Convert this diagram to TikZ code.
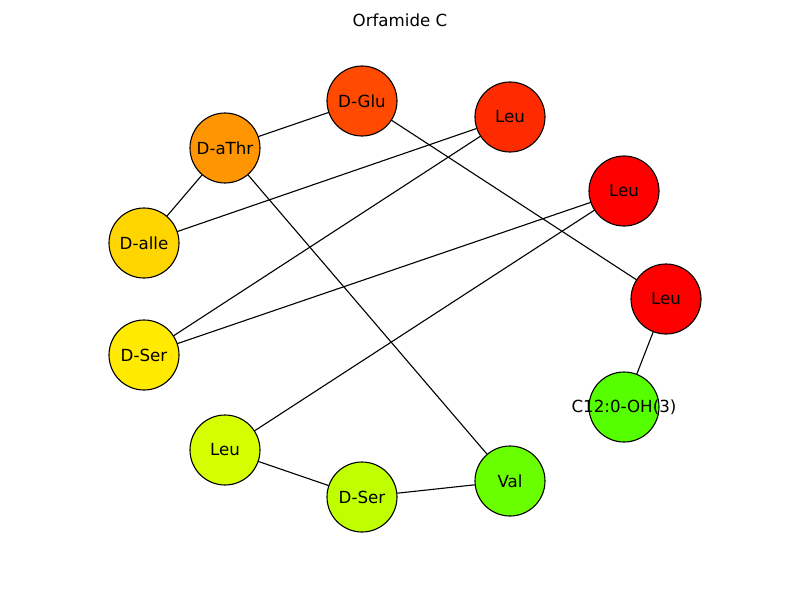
\documentclass[tikz,border=0pt]{standalone}
\usepackage{fontspec}
\setmainfont{DejaVu Sans}
\usepackage{color}
\definecolor{cGlu}{HTML}{FF4A00}
\definecolor{cLeuA}{HTML}{FF2B00}
\definecolor{cLeuB}{HTML}{FF0000}
\definecolor{cFat}{HTML}{55FF00}
\definecolor{cVal}{HTML}{6AFF00}
\definecolor{cSerB}{HTML}{BFFF00}
\definecolor{cLeuC}{HTML}{D5FF00}
\definecolor{cSerA}{HTML}{FFEA00}
\definecolor{cIle}{HTML}{FFD500}
\definecolor{cThr}{HTML}{FF9500}

\begin{document}
\begin{tikzpicture}[line cap=round,line join=round,x=0.72pt,y=-0.72pt,
  res/.style={circle,draw=black,line width=0.8pt,minimum size=50.4pt,inner sep=0pt,font=\fontsize{12}{14}\selectfont}]
\useasboundingbox (0,0) rectangle (800,600);
\node (title) at (400,20) {\fontsize{12}{14}\selectfont Orfamide C};
% residues
\node[res,fill=cGlu] (glu) at (362,101) {D-Glu};
\node[res,fill=cLeuA] (leua) at (510,117) {Leu};
\node[res,fill=cLeuB] (leub) at (624,191) {Leu};
\node[res,fill=cLeuB] (leuc) at (666,299) {Leu};
\node[res,fill=cFat] (fat) at (624,407) {};
\node[res,fill=cVal] (val) at (510,481) {Val};
\node[res,fill=cSerB] (serb) at (362,497) {D-Ser};
\node[res,fill=cLeuC] (leud) at (225,450) {Leu};
\node[res,fill=cSerA] (sera) at (144,355) {D-Ser};
\node[res,fill=cIle] (ile) at (144,243) {D-alle};
\node[res,fill=cThr] (thr) at (225,148) {D-aThr};
\node[font=\fontsize{12}{14}\selectfont] (fatlbl) at (fat.center) {C12:0-OH(3)};
% bonds
\begin{scope}[line width=0.8pt]
\draw (thr) -- (glu);
\draw (thr) -- (ile);
\draw (thr) -- (val);
\draw (glu) -- (leuc);
\draw (leua) -- (ile);
\draw (leua) -- (sera);
\draw (leub) -- (sera);
\draw (leub) -- (leud);
\draw (leuc) -- (fat);
\draw (leud) -- (serb);
\draw (serb) -- (val);
\end{scope}
\end{tikzpicture}
\end{document}
